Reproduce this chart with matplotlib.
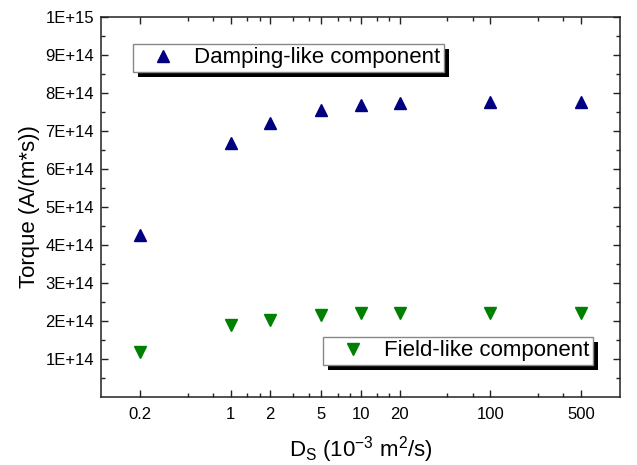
import matplotlib
matplotlib.use("Agg")
import matplotlib.pyplot as plt
import numpy as np
from matplotlib.patches import Rectangle
from matplotlib.ticker import FixedLocator, FuncFormatter, NullFormatter

plt.rcParams['font.family'] = ['Liberation Sans', 'DejaVu Sans']
plt.rcParams['mathtext.fontset'] = 'custom'
plt.rcParams['mathtext.rm'] = 'Liberation Sans'
plt.rcParams['mathtext.it'] = 'Liberation Sans:italic'

# diffusion constant (10^-3 m^2/s)
ds = [0.2, 1, 2, 5, 10, 20, 100, 500]
# torque components (A/(m*s))
damping = [4.26e14, 6.69e14, 7.22e14, 7.55e14, 7.68e14, 7.74e14, 7.77e14, 7.77e14]
field = [1.19e14, 1.89e14, 2.03e14, 2.16e14, 2.20e14, 2.22e14, 2.22e14, 2.22e14]

x_ticks = [0.2, 1, 2, 5, 10, 20, 100, 500]
x_ticklabels = ['0.2', '1', '2', '5', '10', '20', '100', '500']
y_ticks = [1e14, 2e14, 3e14, 4e14, 5e14, 6e14, 7e14, 8e14, 9e14, 1e15]


def main():
    fig = plt.figure(figsize=(6.37, 4.65), dpi=100)
    ax = fig.add_axes([0.1586, 0.1462, 0.8147, 0.8172])

    ax.plot(ds, damping, linestyle='none', marker='^', markersize=9,
            color='#000080', label='Damping-like component')
    ax.plot(ds, field, linestyle='none', marker='v', markersize=9,
            color='#008000', label='Field-like component')

    ax.set_xscale('log')
    ax.set_xlim(0.1, 1000)
    ax.set_ylim(0, 1e15)

    # two minor ticks evenly spaced between each pair of major ticks
    minor = []
    for a, b in zip(x_ticks[:-1], x_ticks[1:]):
        minor += [a + (b - a) / 3, a + 2 * (b - a) / 3]
    ax.xaxis.set_major_locator(FixedLocator(x_ticks))
    ax.xaxis.set_minor_locator(FixedLocator(minor))
    ax.xaxis.set_minor_formatter(NullFormatter())
    ax.set_xticklabels(x_ticklabels)

    ax.yaxis.set_major_locator(FixedLocator(y_ticks))
    ax.yaxis.set_minor_locator(FixedLocator(np.arange(0.5e14, 1e15, 1e14)))
    ax.yaxis.set_minor_formatter(NullFormatter())
    ax.yaxis.set_major_formatter(FuncFormatter(lambda v, p: '%.0E' % v))

    ax.tick_params(which='both', direction='in', top=True, right=True,
                   width=1, labelsize=12, color='#222222')
    ax.tick_params(which='major', length=5)
    ax.tick_params(which='minor', length=3)
    ax.tick_params(axis='x', pad=7)
    ax.tick_params(axis='y', pad=5)
    for s in ax.spines.values():
        s.set_linewidth(1.1)
        s.set_color('#222222')

    ax.set_xlabel(r'D$_\mathrm{S}$ (10$^{-3}$ m$^2$/s)', fontsize=16, labelpad=9)
    ax.set_ylabel('Torque (A/(m*s))', fontsize=16, labelpad=4)

    h, l = ax.get_legend_handles_labels()
    opts = dict(fontsize=16, borderpad=0.15, handlelength=2.4, handletextpad=0.2,
                fancybox=False, framealpha=1, edgecolor='#888888',
                numpoints=1, loc='upper left', borderaxespad=0)
    leg1 = ax.legend([h[0]], [l[0]], bbox_to_anchor=(0.0617, 0.929), **opts)
    ax.add_artist(leg1)
    leg2 = ax.legend([h[1]], [l[1]], bbox_to_anchor=(0.428, 0.158), **opts)

    # black drop shadows behind the legend boxes
    fig.canvas.draw()
    inv = ax.transAxes.inverted()
    dx, dy = 5 / ax.bbox.width, 5 / ax.bbox.height
    for lg in (leg1, leg2):
        lg.get_frame().set_linewidth(1.0)
        bb = lg.get_window_extent().transformed(inv)
        ax.add_artist(Rectangle((bb.x0 + dx, bb.y0 - dy), bb.width, bb.height,
                                transform=ax.transAxes, facecolor='black',
                                edgecolor='none', zorder=4.5, clip_on=False))

    fig.savefig('out.png', dpi=100)
    plt.close(fig)


if __name__ == "__main__":
    main()
